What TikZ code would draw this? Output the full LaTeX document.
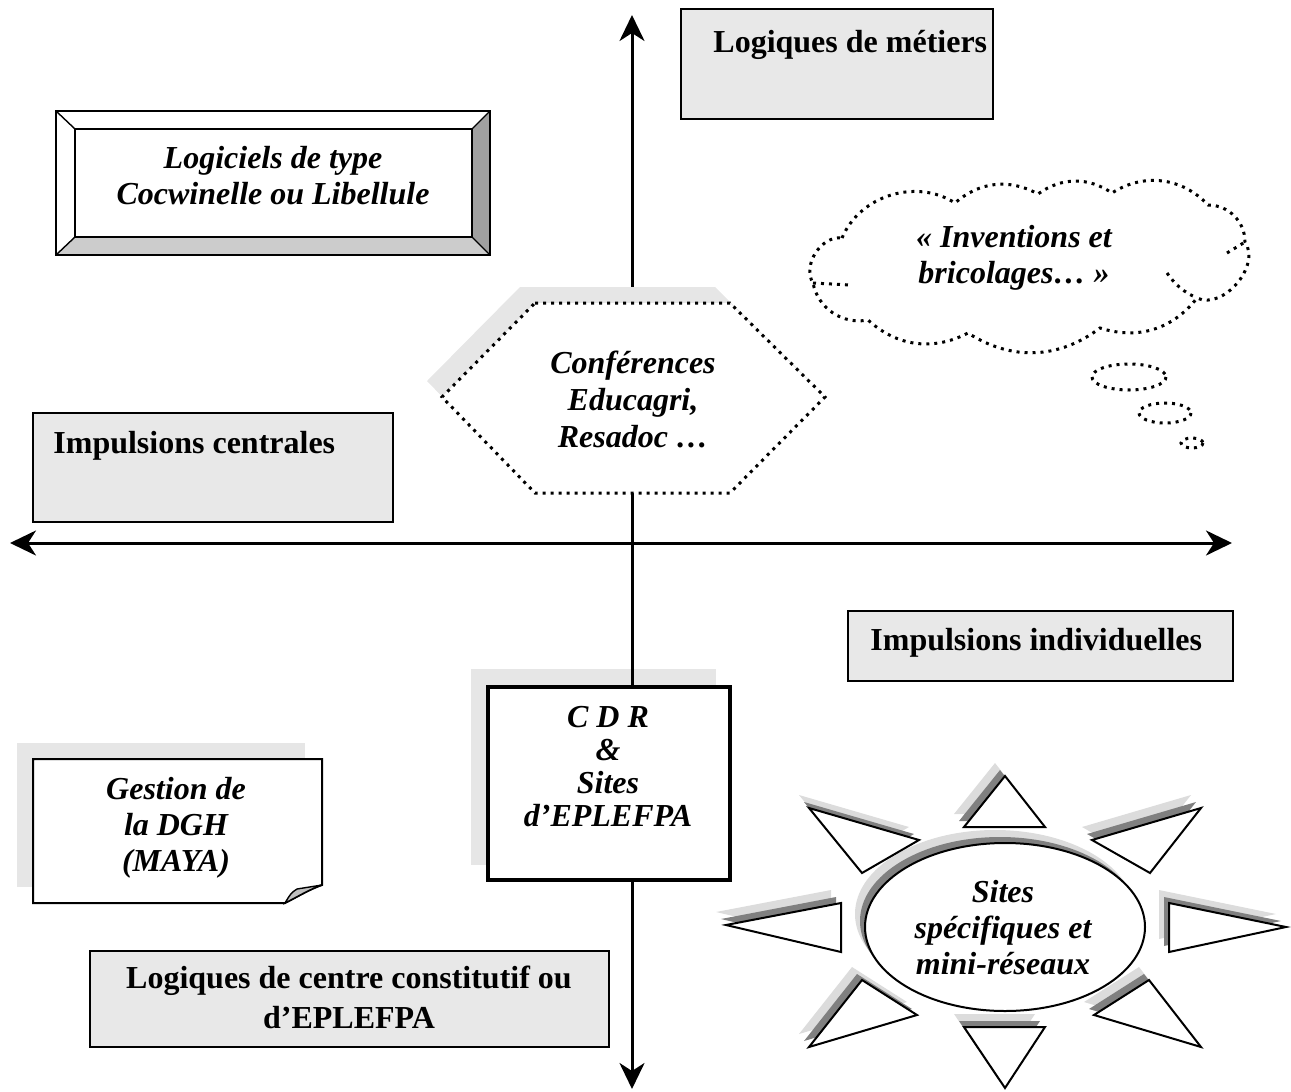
\documentclass[tikz,border=0pt]{standalone}
\usepackage{fontspec}
\setmainfont{Liberation Serif}
\usetikzlibrary{arrows.meta}
\definecolor{boxgray}{HTML}{E8E8E8}
\definecolor{shadegray}{HTML}{E6E6E6}
\definecolor{bevdark}{HTML}{A0A0A0}
\definecolor{bevlight}{HTML}{CCCCCC}
\definecolor{sundark}{HTML}{808080}
\definecolor{sunlight}{HTML}{DCDCDC}
\definecolor{foldgray}{HTML}{BFBFBF}
\begin{document}
\begin{tikzpicture}[x=0.5pt,y=-0.5pt,
  gbox/.style={draw=black,line width=1pt,fill=boxgray},
  plain/.style={font=\fontsize{16}{18}\selectfont\bfseries,inner sep=0pt},
  slant/.style={font=\fontsize{16}{18}\selectfont\bfseries\itshape,align=center,inner sep=0pt},
  dots/.style={line width=1.5pt,dash pattern=on 1.5pt off 2.5pt},
  axis/.style={line width=1.5pt,{Stealth[length=13pt,width=12.5pt,inset=4pt]}-{Stealth[length=13pt,width=12.5pt,inset=4pt]}},
  outl/.style={draw=black,line width=1pt,fill=white}]
\useasboundingbox (0,0) rectangle (1291,1092);

% ---------- shadows lying under the axes ----------
\fill[shadegray] (471,669) rectangle (716,865);
\fill[shadegray] (17,743) rectangle (305,887);

% ---------- axes ----------
\coordinate (ytop) at (632,15);
\coordinate (ybot) at (632,1089);
\coordinate (xleft) at (10,543);
\coordinate (xright) at (1232,543);
\draw[axis] (ybot) -- (ytop);
\draw[axis] (xleft) -- (xright);

% ---------- grey label boxes ----------
\draw[gbox] (681,9) rectangle (993,119);
\node[plain,anchor=base west] (metiers) at (713,52) {Logiques de métiers};
\draw[gbox] (33,413) rectangle (393,522);
\node[plain,anchor=base west] (centrales) at (53,453) {Impulsions centrales};
\draw[gbox] (848,611) rectangle (1233,681);
\node[plain,anchor=base west] (individuelles) at (870,650) {Impulsions individuelles};
\draw[gbox] (90,951) rectangle (609,1047);
\node[plain,align=center,font=\fontsize{16}{20}\selectfont\bfseries] (centre) at (349,997)
  {Logiques de centre constitutif ou\\d’EPLEFPA};

% ---------- bevelled frame ----------
\fill[white] (56,111) rectangle (490,255);
\fill[bevdark] (490,111) -- (490,255) -- (472,237) -- (472,129) -- cycle;
\fill[bevlight] (56,255) -- (490,255) -- (472,237) -- (75,237) -- cycle;
\draw[line width=1pt] (56,111) rectangle (490,255);
\draw[line width=1pt] (75,129) rectangle (472,237);
\draw[line width=0.7pt] (56,111) -- (75,129) (490,111) -- (472,129)
  (490,255) -- (472,237) (56,255) -- (75,237);
\node[slant] (logiciels) at (273,176) {Logiciels de type\\Cocwinelle ou Libellule};

% ---------- thought cloud ----------
\draw[dots] (842,238) to[bend left=50] (955,203) to[bend left=35] (1038,194)
  to[bend left=35] (1112,193) to[bend left=40] (1208,205) to[bend left=45] (1245,242)
  to[bend left=75] (1197,298) to[bend left=35] (1100,328) to[bend left=35] (968,333)
  to[bend left=35] (868,320) to[bend left=45] (813,283) to[bend left=65] (842,238);
\draw[dots] (1167,273) to[bend right=15] (1197,298);
\draw[dots] (1227,253) -- (1245,242);
\draw[dots] (813,283) -- (850,285);
\draw[dots] (1129,377) ellipse [x radius=37, y radius=13];
\draw[dots] (1165,413) ellipse [x radius=26, y radius=10];
\draw[dots] (1192,443) ellipse [x radius=11, y radius=5];
\node[slant] (inventions) at (1014,258) {« Inventions et\\bricolages… »};

% ---------- hexagon ----------
\fill[shadegray,shift={(-15,-16)}] (535,303) -- (730,303) -- (825,397) -- (730,493)
  -- (535,493) -- (442,397) -- cycle;
\fill[white] (535,303) -- (730,303) -- (825,397) -- (730,493) -- (535,493) -- (442,397) -- cycle;
\draw[dots] (535,303) -- (730,303) -- (825,397) -- (730,493) -- (535,493) -- (442,397) -- cycle;
\node[slant,font=\fontsize{16}{18.5}\selectfont\bfseries\itshape] (conferences) at (633,399)
  {Conférences\\Educagri,\\Resadoc …};

% ---------- CDR box ----------
\draw[line width=1.75pt,fill=white] (488,687) rectangle (730,880);
\node[slant,font=\fontsize{16}{16.5}\selectfont\bfseries\itshape] (cdr) at (608,767)
  {C D R\\\&\\Sites\\d’EPLEFPA};

% ---------- note with turned corner ----------
\draw[line width=1pt,fill=white] (33,759) -- (322,759) -- (322,885)
  .. controls (310,889) and (297,897) .. (285,903) -- (33,903) -- cycle;
\filldraw[line width=0.7pt,fill=foldgray] (285,903) .. controls (297,897) and (310,889) .. (322,885)
  -- (297,889) .. controls (291,893) .. (285,903) -- cycle;
\node[slant] (gestion) at (176,828) {Gestion de\\la DGH\\(MAYA)};

% ---------- sun ----------
\def\rays{(1005,776) -- (964,827) -- (1045,827) -- cycle
  (964,1027) -- (1045,1027) -- (1005,1088) -- cycle
  (726,925) -- (841,903) -- (841,952) -- cycle
  (1169,903) -- (1286,927) -- (1169,952) -- cycle
  (809,808) -- (919,840) -- (862,873) -- cycle
  (1201,808) -- (1092,840) -- (1150,873) -- cycle
  (809,1047) -- (917,1015) -- (862,980) -- cycle
  (1201,1047) -- (1094,1015) -- (1149,980) -- cycle
  (1005,927) ellipse [x radius=140, y radius=84]}
\fill[sunlight,shift={(-10,-13)}] \rays;
\fill[sundark,shift={(-5,-6)}] \rays;
\filldraw[line width=1pt,fill=white] \rays;
\node[slant] (sites) at (1003,928) {Sites\\spécifiques et\\mini-réseaux};
\end{tikzpicture}
\end{document}
